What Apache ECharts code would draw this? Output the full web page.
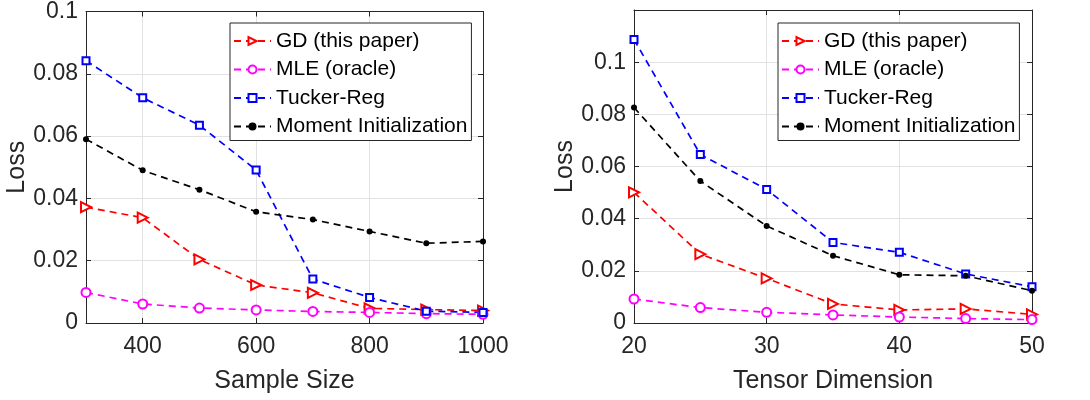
<!DOCTYPE html>
<html>
<head>
<meta charset="utf-8">
<script src="https://cdn.jsdelivr.net/npm/echarts@6/dist/echarts.min.js"></script>
<style>
  html, body { margin: 0; padding: 0; background: #fff; }
  #main { width: 1090px; height: 400px; }
</style>
</head>
<body>
<div id="main"></div>
<script>
// left panel: loss vs sample size
const sampleSize = [300, 400, 500, 600, 700, 800, 900, 1000]
const sampleTicks = [400, 600, 800, 1000]
const gdSample = [0.0372, 0.0338, 0.0204, 0.0122, 0.0097, 0.0047, 0.0043, 0.0040]
const mleSample = [0.0098, 0.0061, 0.0048, 0.0042, 0.0037, 0.0034, 0.0030, 0.0028]
const tuckerSample = [0.0842, 0.0723, 0.0635, 0.0491, 0.0141, 0.0082, 0.0038, 0.0034]
const momentSample = [0.0590, 0.0490, 0.0428, 0.0357, 0.0332, 0.0294, 0.0256, 0.0262]

// right panel: loss vs tensor dimension
const tensorDim = [20, 25, 30, 35, 40, 45, 50]
const gdDim = [0.0501, 0.0264, 0.0171, 0.0073, 0.0050, 0.0054, 0.0033]
const mleDim = [0.0092, 0.0059, 0.0041, 0.0031, 0.0023, 0.0017, 0.0013]
const tuckerDim = [0.1087, 0.0646, 0.0512, 0.0309, 0.0271, 0.0188, 0.0139]
const momentDim = [0.0826, 0.0544, 0.0372, 0.0258, 0.0185, 0.0181, 0.0124]

const names = ['GD (this paper)', 'MLE (oracle)', 'Tucker-Reg', 'Moment Initialization']

const axisColor = '#262626'
const gridColor = '#e2e2e2'

const markers = [
  { color: '#ff0000', symbol: 'emptyTriangle', size: 10, rotate: -90 },
  { color: '#ff00ff', symbol: 'emptyCircle', size: 9, rotate: 0 },
  { color: '#0000ff', symbol: 'emptyRect', size: 7, rotate: 0 },
  { color: '#000000', symbol: 'circle', size: 6, rotate: 0 }
]

function pairs (xs, ys) {
  return xs.map((x, i) => [x, ys[i]])
}

function makeSeries (idx, gridIdx, xs, ys) {
  const m = markers[idx]
  return {
    name: names[idx],
    type: 'line',
    xAxisIndex: gridIdx * 2,
    yAxisIndex: gridIdx * 2,
    data: pairs(xs, ys),
    symbol: m.symbol,
    symbolSize: m.size,
    symbolRotate: m.rotate,
    showAllSymbol: true,
    color: m.color,
    itemStyle: { color: m.color, borderWidth: 1.1 },
    lineStyle: { color: m.color, width: 1.7, type: [7, 5] },
    emphasis: { disabled: true },
    animation: false
  }
}

const plainNum = v => String(v)

function mainX (gridIdx, min, max, extra, title) {
  return Object.assign({
    type: 'value',
    gridIndex: gridIdx,
    position: 'bottom',
    min: min,
    max: max,
    name: title,
    nameLocation: 'middle',
    nameGap: 46,
    nameTextStyle: { fontSize: 25, color: axisColor },
    axisLine: { show: true, onZero: false, lineStyle: { color: axisColor } },
    axisTick: { show: true, inside: true, length: 5, lineStyle: { color: axisColor } },
    axisLabel: { fontSize: 23, color: axisColor, margin: 12, formatter: plainNum },
    splitLine: { show: true, lineStyle: { color: gridColor } }
  }, extra)
}

function boxX (gridIdx, min, max, extra) {
  return Object.assign({
    type: 'value',
    gridIndex: gridIdx,
    position: 'top',
    min: min,
    max: max,
    axisLine: { show: true, onZero: false, lineStyle: { color: axisColor } },
    axisTick: { show: true, inside: true, length: 5, lineStyle: { color: axisColor } },
    axisLabel: { show: false },
    splitLine: { show: false }
  }, extra)
}

function mainY (gridIdx, max) {
  return {
    type: 'value',
    gridIndex: gridIdx,
    position: 'left',
    min: 0,
    max: max,
    interval: 0.02,
    name: 'Loss',
    nameLocation: 'middle',
    nameGap: 56,
    nameRotate: 90,
    nameTextStyle: { fontSize: 25, color: axisColor },
    axisLine: { show: true, onZero: false, lineStyle: { color: axisColor } },
    axisTick: { show: true, inside: true, length: 5, lineStyle: { color: axisColor } },
    axisLabel: { fontSize: 23, color: axisColor, margin: 8, showMaxLabel: max <= 0.1 },
    splitLine: { show: true, lineStyle: { color: gridColor } }
  }
}

function boxY (gridIdx, max) {
  return {
    type: 'value',
    gridIndex: gridIdx,
    position: 'right',
    min: 0,
    max: max,
    interval: 0.02,
    axisLine: { show: true, onZero: false, lineStyle: { color: axisColor } },
    axisTick: { show: true, inside: true, length: 5, lineStyle: { color: axisColor } },
    axisLabel: { show: false },
    splitLine: { show: false }
  }
}

function makeLegend (left) {
  return {
    data: names,
    orient: 'vertical',
    left: left,
    top: 23,
    itemWidth: 37,
    itemHeight: 10,
    itemGap: 6.5,
    padding: [7, 4, 3, 3],
    borderColor: axisColor,
    borderWidth: 1,
    backgroundColor: '#fff',
    selectedMode: false,
    textStyle: { fontSize: 21, color: '#000', lineHeight: 22 }
  }
}

const chart = echarts.init(document.getElementById('main'))
const sampleTick = { show: true, inside: true, length: 5, lineStyle: { color: axisColor }, customValues: sampleTicks }

const option = {
  animation: false,
  textStyle: { fontFamily: 'Liberation Sans, Arial, sans-serif' },
  grid: [
    { left: 86, right: 607, top: 10, bottom: 77 },
    { left: 634, right: 58, top: 10, bottom: 77 }
  ],
  legend: [makeLegend(230), makeLegend(778)],
  xAxis: [
    mainX(0, 300, 1000, {
      axisTick: sampleTick,
      axisLabel: { fontSize: 23, color: axisColor, margin: 12, customValues: sampleTicks, formatter: plainNum }
    }, 'Sample Size'),
    boxX(0, 300, 1000, { axisTick: sampleTick }),
    mainX(1, 20, 50, { interval: 10 }, 'Tensor Dimension'),
    boxX(1, 20, 50, { interval: 10 })
  ],
  yAxis: [mainY(0, 0.1), boxY(0, 0.1), mainY(1, 0.12), boxY(1, 0.12)],
  series: [
    makeSeries(0, 0, sampleSize, gdSample),
    makeSeries(1, 0, sampleSize, mleSample),
    makeSeries(2, 0, sampleSize, tuckerSample),
    makeSeries(3, 0, sampleSize, momentSample),
    makeSeries(0, 1, tensorDim, gdDim),
    makeSeries(1, 1, tensorDim, mleDim),
    makeSeries(2, 1, tensorDim, tuckerDim),
    makeSeries(3, 1, tensorDim, momentDim)
  ]
}

chart.setOption(option)
</script>
</body>
</html>
